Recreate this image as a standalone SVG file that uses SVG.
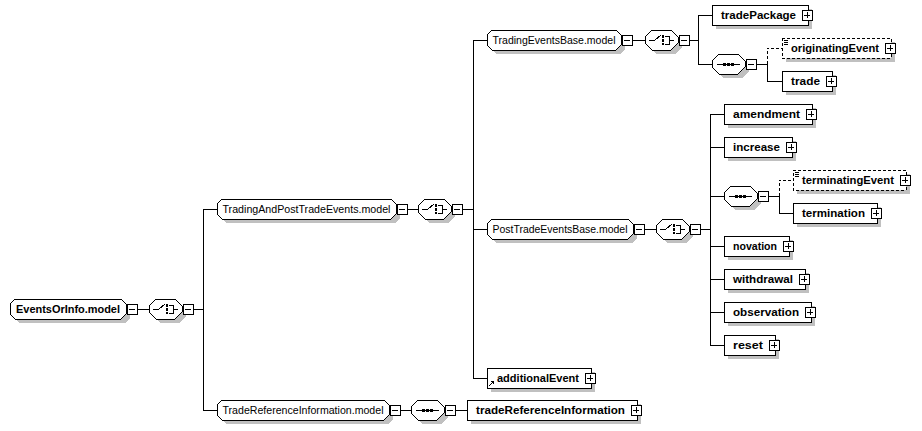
<svg xmlns="http://www.w3.org/2000/svg" width="922" height="431" viewBox="0 0 922 431">
<style>
.box{fill:#fff;stroke:#000;stroke-width:1}
.sh{fill:#c0c0c0;stroke:none}
.ln{fill:none;stroke:#000;stroke-width:1}
.opt{stroke-dasharray:3 2}
.dot{fill:#000}
.t{font-family:"Liberation Sans",Arial,sans-serif;font-size:11.5px;font-weight:bold;fill:#000}
.g{font-weight:normal;font-size:11px}
path,rect,line{shape-rendering:crispEdges}
</style>
<defs>
<g id="plus"><rect x="0" y="-5" width="10" height="10" class="box"/><path d="M2 0H8M5 -3V3" class="ln"/></g>
<g id="minus"><rect x="0" y="-5" width="10" height="10" class="box"/><path d="M2 0H8" class="ln"/></g>
<g id="choice">
<path class="sh" d="M11,-6 H30 L37,1 V7 L30,14 H11 L4,7 V1 Z"/>
<path class="box" d="M7,-10 H26 L33,-3 V3 L26,10 H7 L0,3 V-3 Z"/>
<path class="ln" d="M4,0 H10 L16,-5 M20,-4 H24 V4 H20 M24,0 H29"/>
<rect class="dot" x="17" y="-5" width="2" height="3"/><rect class="dot" x="17" y="-1" width="2" height="3"/><rect class="dot" x="17" y="3" width="2" height="2"/>
<use href="#minus" x="34"/>
</g>
<g id="seq">
<path class="sh" d="M11,-6 H30 L37,1 V7 L30,14 H11 L4,7 V1 Z"/>
<path class="box" d="M7,-10 H26 L33,-3 V3 L26,10 H7 L0,3 V-3 Z"/>
<path class="ln" d="M5,0 H28"/>
<rect class="dot" x="11" y="-1" width="3" height="3"/><rect class="dot" x="15" y="-1" width="3" height="3"/><rect class="dot" x="19" y="-1" width="3" height="3"/>
<use href="#minus" x="34"/>
</g>
</defs>

<g id="connectors" class="ln">
<path d="M137,309 H149 M193,309 H203 M203,209 V410 M203,209 H217 M203,410 H217"/>
<path d="M407,209 H418 M462,209 H473 M473,40 V378 M473,40 H487 M473,229 H487 M473,378 H487"/>
<path d="M632,40 H645 M689,40 H698 M698,15 V64 M698,15 H712 M698,64 H712"/>
<path d="M756,64 H767 M767,64 V81 H782"/>
<path class="opt" d="M767,64 V48 H782"/>
<path d="M644,229 H656 M700,229 H710 M710,114 V345 M710,114 H724 M710,147 H724 M710,196 H724 M710,246 H724 M710,279 H724 M710,312 H724 M710,345 H724"/>
<path d="M768,196 H779 M779,196 V213 H793"/>
<path class="opt" d="M779,196 V180 H793"/>
<path d="M400,410 H411 M455,410 H467"/>
</g>

<g id="EventsOrInfo.model" transform="translate(10 309)">
<path class="sh" transform="translate(4 4)" d="M5,-10 H111 L116,-5 V5 L111,10 H5 L0,5 V-5 Z"/>
<path class="box" d="M5,-10 H111 L116,-5 V5 L111,10 H5 L0,5 V-5 Z"/>
<text class="t" x="6" y="4" textLength="104" lengthAdjust="spacingAndGlyphs">EventsOrInfo.model</text>
<use href="#minus" x="117"/>
</g>
<g id="choice-root" transform="translate(149 309)"><use href="#choice"/></g>

<g id="TradingAndPostTradeEvents.model" transform="translate(217 209)">
<path class="sh" transform="translate(4 4)" d="M5,-10 H174 L179,-5 V5 L174,10 H5 L0,5 V-5 Z"/>
<path class="box" d="M5,-10 H174 L179,-5 V5 L174,10 H5 L0,5 V-5 Z"/>
<text class="t g" x="5.5" y="4" textLength="168" lengthAdjust="spacingAndGlyphs">TradingAndPostTradeEvents.model</text>
<use href="#minus" x="180"/>
</g>
<g id="choice-tapte" transform="translate(418 209)"><use href="#choice"/></g>

<g id="TradingEventsBase.model" transform="translate(487 40)">
<path class="sh" transform="translate(4 4)" d="M5,-10 H129 L134,-5 V5 L129,10 H5 L0,5 V-5 Z"/>
<path class="box" d="M5,-10 H129 L134,-5 V5 L129,10 H5 L0,5 V-5 Z"/>
<text class="t g" x="5.5" y="4" textLength="123" lengthAdjust="spacingAndGlyphs">TradingEventsBase.model</text>
<use href="#minus" x="135"/>
</g>
<g id="choice-teb" transform="translate(645 40)"><use href="#choice"/></g>

<g id="tradePackage" transform="translate(712 15)">
<rect class="sh" x="4" y="-6" width="96" height="20"/>
<rect class="box" x="0" y="-10" width="96" height="20"/>
<text class="t" x="9" y="4" textLength="75" lengthAdjust="spacingAndGlyphs">tradePackage</text>
<use href="#plus" x="90"/>
</g>
<g id="seq-teb" transform="translate(712 64)"><use href="#seq"/></g>

<g id="originatingEvent" transform="translate(782 48)">
<rect class="sh" x="4" y="-6" width="109" height="20"/>
<rect class="box opt" x="0" y="-10" width="109" height="20"/>
<path class="ln" d="M2,-8 H6 M2,-6 H6 M2,-4 H6"/>
<text class="t" x="9" y="4" textLength="88" lengthAdjust="spacingAndGlyphs">originatingEvent</text>
<use href="#plus" x="103"/>
</g>

<g id="trade" transform="translate(782 81)">
<rect class="sh" x="4" y="-6" width="50" height="20"/>
<rect class="box" x="0" y="-10" width="50" height="20"/>
<text class="t" x="9" y="4" textLength="29" lengthAdjust="spacingAndGlyphs">trade</text>
<use href="#plus" x="44"/>
</g>

<g id="PostTradeEventsBase.model" transform="translate(487 229)">
<path class="sh" transform="translate(4 4)" d="M5,-10 H141 L146,-5 V5 L141,10 H5 L0,5 V-5 Z"/>
<path class="box" d="M5,-10 H141 L146,-5 V5 L141,10 H5 L0,5 V-5 Z"/>
<text class="t g" x="5.5" y="4" textLength="135" lengthAdjust="spacingAndGlyphs">PostTradeEventsBase.model</text>
<use href="#minus" x="147"/>
</g>
<g id="choice-pteb" transform="translate(656 229)"><use href="#choice"/></g>

<g id="amendment" transform="translate(724 114)">
<rect class="sh" x="4" y="-6" width="88" height="20"/>
<rect class="box" x="0" y="-10" width="88" height="20"/>
<text class="t" x="9" y="4" textLength="67" lengthAdjust="spacingAndGlyphs">amendment</text>
<use href="#plus" x="82"/>
</g>

<g id="increase" transform="translate(724 147)">
<rect class="sh" x="4" y="-6" width="68" height="20"/>
<rect class="box" x="0" y="-10" width="68" height="20"/>
<text class="t" x="9" y="4" textLength="47" lengthAdjust="spacingAndGlyphs">increase</text>
<use href="#plus" x="62"/>
</g>

<g id="seq-pteb" transform="translate(724 196)"><use href="#seq"/></g>

<g id="terminatingEvent" transform="translate(793 180)">
<rect class="sh" x="4" y="-6" width="113" height="20"/>
<rect class="box opt" x="0" y="-10" width="113" height="20"/>
<path class="ln" d="M2,-8 H6 M2,-6 H6 M2,-4 H6"/>
<text class="t" x="9" y="4" textLength="92" lengthAdjust="spacingAndGlyphs">terminatingEvent</text>
<use href="#plus" x="107"/>
</g>

<g id="termination" transform="translate(793 213)">
<rect class="sh" x="4" y="-6" width="84" height="20"/>
<rect class="box" x="0" y="-10" width="84" height="20"/>
<text class="t" x="9" y="4" textLength="63" lengthAdjust="spacingAndGlyphs">termination</text>
<use href="#plus" x="78"/>
</g>

<g id="novation" transform="translate(724 246)">
<rect class="sh" x="4" y="-6" width="65" height="20"/>
<rect class="box" x="0" y="-10" width="65" height="20"/>
<text class="t" x="9" y="4" textLength="44" lengthAdjust="spacingAndGlyphs">novation</text>
<use href="#plus" x="59"/>
</g>

<g id="withdrawal" transform="translate(724 279)">
<rect class="sh" x="4" y="-6" width="81" height="20"/>
<rect class="box" x="0" y="-10" width="81" height="20"/>
<text class="t" x="9" y="4" textLength="60" lengthAdjust="spacingAndGlyphs">withdrawal</text>
<use href="#plus" x="75"/>
</g>

<g id="observation" transform="translate(724 312)">
<rect class="sh" x="4" y="-6" width="87" height="20"/>
<rect class="box" x="0" y="-10" width="87" height="20"/>
<text class="t" x="9" y="4" textLength="66" lengthAdjust="spacingAndGlyphs">observation</text>
<use href="#plus" x="81"/>
</g>

<g id="reset" transform="translate(724 345)">
<rect class="sh" x="4" y="-6" width="51" height="20"/>
<rect class="box" x="0" y="-10" width="51" height="20"/>
<text class="t" x="9" y="4" textLength="30" lengthAdjust="spacingAndGlyphs">reset</text>
<use href="#plus" x="45"/>
</g>

<g id="additionalEvent" transform="translate(487 378)">
<rect class="sh" x="4" y="-6" width="104" height="20"/>
<rect class="box" x="0" y="-10" width="104" height="20"/>
<path class="ln" d="M2,8 L6,4"/>
<path class="dot" d="M3.5,3 H7 V6.5 Z"/>
<text class="t" x="10" y="4" textLength="82" lengthAdjust="spacingAndGlyphs">additionalEvent</text>
<use href="#plus" x="98"/>
</g>

<g id="TradeReferenceInformation.model" transform="translate(217 410)">
<path class="sh" transform="translate(4 4)" d="M5,-10 H167 L172,-5 V5 L167,10 H5 L0,5 V-5 Z"/>
<path class="box" d="M5,-10 H167 L172,-5 V5 L167,10 H5 L0,5 V-5 Z"/>
<text class="t g" x="5.5" y="4" textLength="161" lengthAdjust="spacingAndGlyphs">TradeReferenceInformation.model</text>
<use href="#minus" x="173"/>
</g>
<g id="seq-tri" transform="translate(411 410)"><use href="#seq"/></g>

<g id="tradeReferenceInformation" transform="translate(467 410)">
<rect class="sh" x="4" y="-6" width="170" height="20"/>
<rect class="box" x="0" y="-10" width="170" height="20"/>
<text class="t" x="9" y="4" textLength="149" lengthAdjust="spacingAndGlyphs">tradeReferenceInformation</text>
<use href="#plus" x="164"/>
</g>
</svg>
